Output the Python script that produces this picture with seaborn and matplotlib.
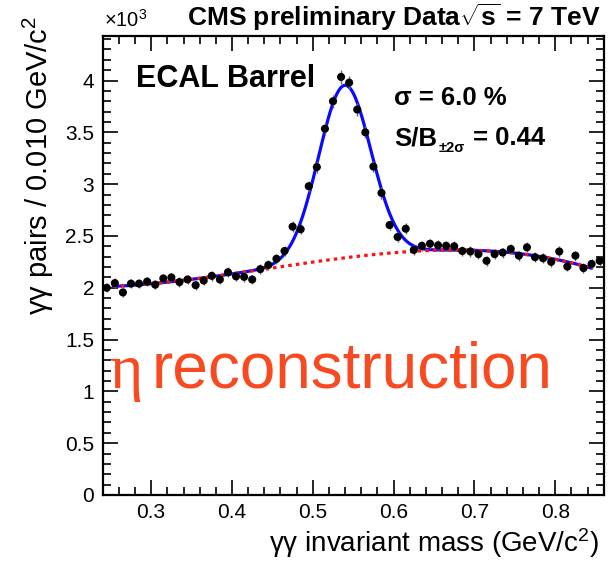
import numpy as np
import matplotlib
matplotlib.use("Agg")
import matplotlib.pyplot as plt
import seaborn as sns
from matplotlib.ticker import MultipleLocator, FuncFormatter

# Diphoton invariant-mass bin centres (GeV/c^2), 0.010 GeV/c^2 bins
mass = [0.245, 0.255, 0.265, 0.275, 0.285, 0.295, 0.305, 0.315, 0.325, 0.335,
        0.345, 0.355, 0.365, 0.375, 0.385, 0.395, 0.405, 0.415, 0.425, 0.435,
        0.445, 0.455, 0.465, 0.475, 0.485, 0.495, 0.505, 0.515, 0.525, 0.535,
        0.545, 0.555, 0.565, 0.575, 0.585, 0.595, 0.605, 0.615, 0.625, 0.635,
        0.645, 0.655, 0.665, 0.675, 0.685, 0.695, 0.705, 0.715, 0.725, 0.735,
        0.745, 0.755, 0.765, 0.775, 0.785, 0.795, 0.805, 0.815, 0.825, 0.835,
        0.845, 0.855]

# Photon pairs per bin, in units of 10^3
pairs = [2.000, 2.045, 1.955, 2.040, 2.040, 2.060, 2.030, 2.090, 2.100, 2.055,
         2.080, 2.025, 2.070, 2.115, 2.080, 2.150, 2.110, 2.105, 2.080, 2.180,
         2.220, 2.280, 2.355, 2.590, 2.565, 2.980, 3.165, 3.535, 3.800, 4.035,
         3.980, 3.720, 3.500, 3.170, 2.915, 2.605, 2.490, 2.570, 2.365, 2.405,
         2.425, 2.410, 2.405, 2.400, 2.355, 2.350, 2.325, 2.260, 2.325, 2.340,
         2.375, 2.310, 2.390, 2.295, 2.285, 2.250, 2.350, 2.205, 2.310, 2.190,
         2.230, 2.260]

# Fit model: Gaussian eta peak on top of a polynomial background
peak_mean = 0.5395
peak_rel_width = 0.060          # sigma / mean = 6.0 %
peak_height = 1.665
bkg_mass = [0.253, 0.434, 0.534, 0.624, 0.674, 0.740, 0.841]
bkg_level = [2.013, 2.174, 2.277, 2.360, 2.367, 2.335, 2.200]
fit_lo, fit_hi = 0.253, 0.845

mass = np.asarray(mass)
pairs = np.asarray(pairs)
pairs_err = np.sqrt(pairs * 1000.0) / 1000.0   # Poisson errors

bkg_coef = np.polyfit(bkg_mass, bkg_level, 3)
fit_x = np.linspace(fit_lo, fit_hi, 400)
bkg_y = np.polyval(bkg_coef, fit_x)
peak_sigma = peak_rel_width * peak_mean
total_y = bkg_y + peak_height * np.exp(-0.5 * ((fit_x - peak_mean) / peak_sigma) ** 2)

sns.set_theme(style="ticks")
plt.rcParams["font.family"] = ["Liberation Sans", "DejaVu Sans"]
plt.rcParams["text.color"] = "black"
plt.rcParams["mathtext.fontset"] = "custom"
plt.rcParams["mathtext.rm"] = "Liberation Sans"
plt.rcParams["mathtext.it"] = "Liberation Sans:italic"
plt.rcParams["mathtext.bf"] = "Liberation Sans:bold"

W, H = 613, 562
fig = plt.figure(figsize=(W / 100, H / 100), dpi=100)
fig.patch.set_facecolor("white")

ax_l, ax_r, ax_t, ax_b = 102.7, 603.7, 36.0, 495.0
ax = fig.add_axes([ax_l / W, 1 - ax_b / H, (ax_r - ax_l) / W, (ax_b - ax_t) / H])
ax.set_facecolor("white")


def px(x, y):
    return x / W, 1 - y / H


# Fit curves
sns.lineplot(x=fit_x, y=total_y, color="#0a0aff", linewidth=2.3, ax=ax, zorder=2)
sns.lineplot(x=fit_x, y=bkg_y, color="#ff1010", linewidth=2.3,
             linestyle=(0, (1.1, 1.3)), ax=ax, zorder=2.5)

# Data with statistical error bars
ax.errorbar(mass, pairs, yerr=pairs_err, fmt="none", ecolor="#666666",
            elinewidth=1.0, capsize=0, zorder=3)
sns.scatterplot(x=mass, y=pairs, color="black", s=34, edgecolor="none",
                ax=ax, zorder=4)

ax.set_xlim(0.24, 0.86)
ax.set_ylim(0, 4.43)
ax.set_xlabel("")
ax.set_ylabel("")

ax.xaxis.set_major_locator(MultipleLocator(0.1))
ax.xaxis.set_minor_locator(MultipleLocator(0.02))
ax.yaxis.set_major_locator(MultipleLocator(0.5))
ax.yaxis.set_minor_locator(MultipleLocator(0.1))
ax.xaxis.set_major_formatter(FuncFormatter(lambda v, p: f"{v:g}"))
ax.yaxis.set_major_formatter(FuncFormatter(lambda v, p: f"{v:g}"))
ax.tick_params(which="both", direction="in", top=True, right=True,
               color="black", width=1.2, labelsize=15, labelcolor="black")
ax.tick_params(which="major", length=10.5)
ax.tick_params(which="minor", length=5.5)
ax.tick_params(axis="x", which="major", pad=6)
ax.tick_params(axis="y", which="major", pad=6)
for s in ax.spines.values():
    s.set_visible(True)
    s.set_linewidth(1.6)
    s.set_color("black")

# Axis titles
fig.text(*px(599, 552), "γγ invariant mass (GeV/c$^{2}$)", fontsize=20,
         ha="right", va="baseline")
fig.text(*px(38, 16), "γγ pairs / 0.010 GeV/c$^{2}$", fontsize=21,
         rotation=90, ha="center", va="top")

# Header and annotations
fig.text(*px(104, 27), "×10$^{3}$", fontsize=14.5, ha="left", va="baseline")
fig.text(*px(601, 26), r"CMS preliminary Data$\sqrt{\mathbf{s}}$ = 7 TeV",
         fontsize=19, fontweight="bold", ha="right", va="baseline")
fig.text(*px(136, 87), "ECAL Barrel", fontsize=22, fontweight="bold",
         ha="left", va="baseline")
fig.text(*px(394, 105), "σ = 6.0 %", fontsize=18.5, fontweight="bold",
         ha="left", va="baseline")
fig.text(*px(394, 145), "S/B", fontsize=18.5, fontweight="bold",
         ha="left", va="baseline")
fig.text(*px(439, 152), "±2σ", fontsize=10.5, fontweight="bold",
         ha="left", va="baseline")
fig.text(*px(473, 145), "= 0.44", fontsize=18.5, fontweight="bold",
         ha="left", va="baseline")

# Big coloured caption
fig.text(*px(110, 388), "η", fontsize=46, family=["Liberation Serif"],
         color="#f84a20", ha="left", va="baseline")
fig.text(*px(152, 388), "reconstruction", fontsize=46, color="#f84a20",
         ha="left", va="baseline")

fig.savefig("out.png", dpi=100, facecolor="white")
